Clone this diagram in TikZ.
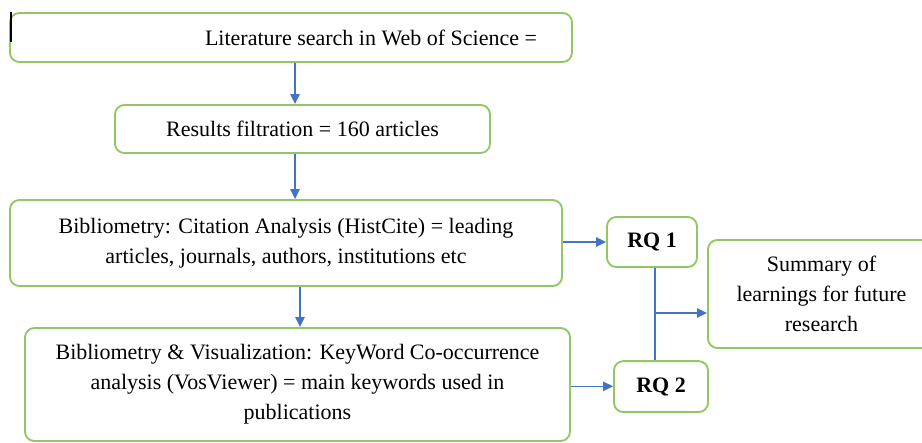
\documentclass[tikz,border=0pt]{standalone}
\usepackage{fontspec}
\setmainfont{Liberation Serif}
\usetikzlibrary{arrows.meta}
\definecolor{boxgreen}{RGB}{146,200,100}
\definecolor{arrblue}{RGB}{68,114,196}
\begin{document}
\begin{tikzpicture}[x=0.75pt,y=-0.75pt,
  box/.style={draw=boxgreen, line width=1.4pt, rounded corners=7pt, align=center,
    inner sep=0pt, font=\fontsize{16.5}{22.5}\selectfont},
  rqbox/.style={box, font=\fontsize{16.5}{22.5}\selectfont\bfseries},
  conn/.style={draw=arrblue, line width=1.25pt, -{Triangle[length=7.5pt,width=7pt]}},
  link/.style={draw=arrblue, line width=1.25pt}]
\useasboundingbox (0,0) rectangle (922,443);
\fill[white] (0,0) rectangle (922,443);

\node[box, minimum width=421.5pt, minimum height=36.75pt] (lit) at (291,37.5)
  {\hspace*{120pt}Literature search in Web of Science =};
\node[box, minimum width=281.25pt, minimum height=36pt] (res) at (302.5,129)
  {Results filtration = 160 articles};
\node[box, minimum width=414pt, minimum height=64.5pt] (cit) at (286,243)
  {Bibliometry: Citation Analysis (HistCite) = leading\\articles, journals, authors, institutions etc};
\node[box, minimum width=408.75pt, minimum height=84.75pt] (key) at (297.5,384.5)
  {Bibliometry \& Visualization: KeyWord Co-occurrence\\analysis (VosViewer) = main keywords used in\\publications};
\node[rqbox, minimum width=67.5pt, minimum height=37.5pt] (rq1) at (652,242) {RQ 1};
\node[rqbox, minimum width=70.5pt, minimum height=38.25pt] (rq2) at (661,386.6) {RQ 2};
\node[box, minimum width=170.25pt, minimum height=81pt] (sum) at (821.5,294)
  {Summary of\\learnings for future\\research};

% cursor mark
\draw[black, line width=1pt] (11,12) -- (11,42);

\draw[conn] ([xshift=3pt]lit.south) -- ([xshift=3pt]lit.south |- res.north);
\draw[conn] ([xshift=-5.6pt]res.south) -- ([xshift=-5.6pt]res.south |- cit.north);
\draw[conn] ([xshift=10.5pt]cit.south) -- ([xshift=10.5pt]cit.south |- key.north);
\draw[conn] (cit.east |- rq1.west) -- (rq1.west);
\draw[conn] ([yshift=0.2pt]key.east |- rq2.west) -- ([yshift=0.2pt]rq2.west);
\draw[link] ([xshift=2.25pt]rq1.south) -- ([xshift=2.25pt]rq1.south |- rq2.north);
\coordinate (j) at (655,313);
\draw[conn] (j) -- (j -| sum.west);
\end{tikzpicture}
\end{document}
